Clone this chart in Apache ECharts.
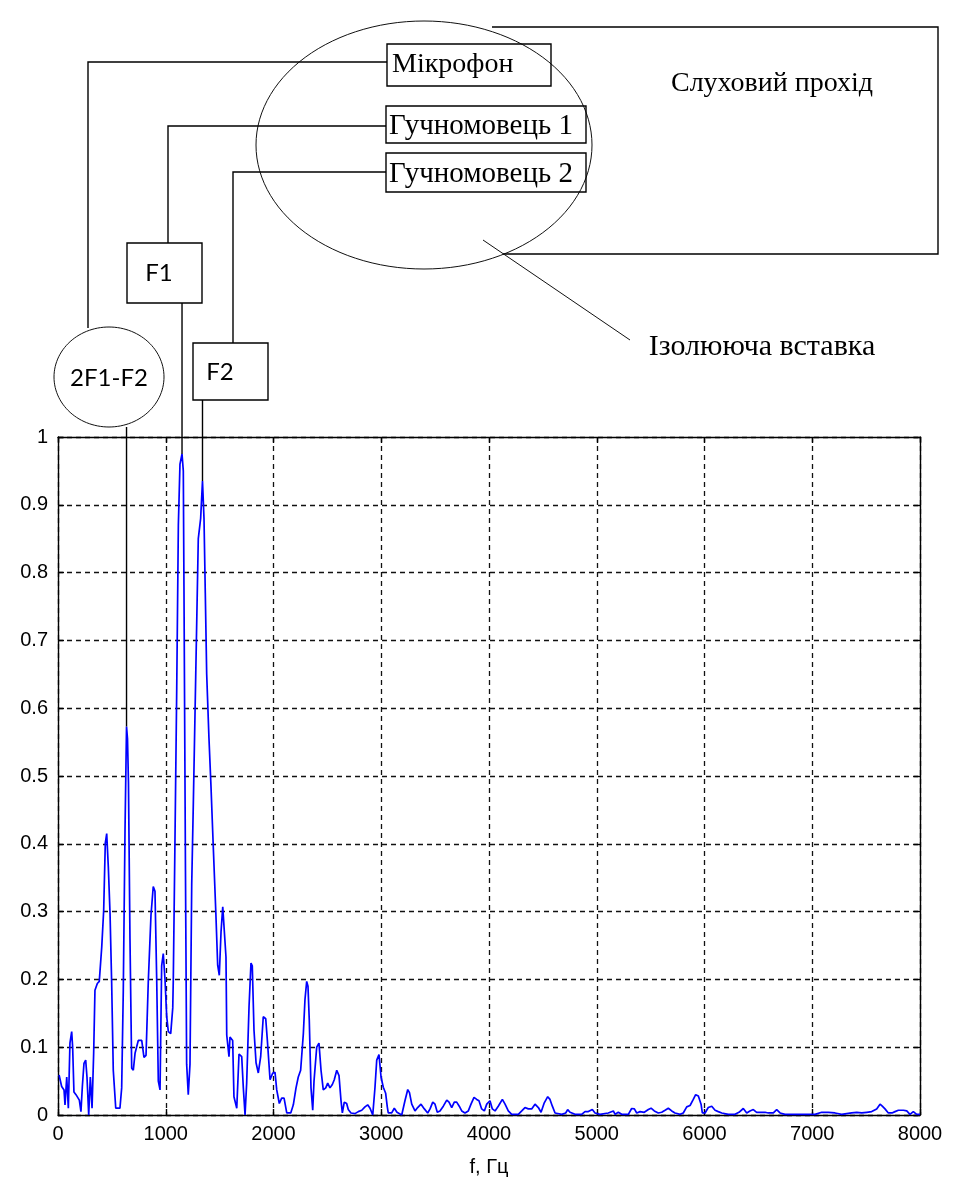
<!DOCTYPE html>
<html>
<head>
<meta charset="utf-8">
<script src="https://cdn.jsdelivr.net/npm/echarts@6/dist/echarts.min.js"></script>
<style>
  html, body { margin: 0; padding: 0; background: #fff; }
  #chart { width: 953px; height: 1194px; }
</style>
</head>
<body>
<div id="chart"></div>
<script>
// Amplitude spectrum of the microphone signal (normalised), frequency in Hz
const freqHz = [
  10, 34, 56, 65, 81, 96, 111, 127, 136, 148, 167, 183, 198, 213, 226, 241, 257, 269, 285, 300,
  316, 331, 343, 365, 383, 406, 424, 439, 452, 467, 483, 498, 513, 536, 575, 591, 606, 622, 636, 645,
  654, 668, 684, 699, 715, 745, 777, 798, 817, 838, 863, 884, 900, 916, 931, 947, 962, 977, 993, 1009,
  1024, 1046, 1065, 1070, 1083, 1102, 1117, 1132, 1151, 1163, 1169, 1183, 1194, 1209, 1225, 1241, 1256, 1278, 1302, 1324,
  1341, 1355, 1367, 1380, 1401, 1420, 1441, 1464, 1482, 1497, 1513, 1529, 1543, 1559, 1566, 1587, 1596, 1621, 1633, 1659,
  1680, 1705, 1720, 1736, 1751, 1773, 1791, 1803, 1819, 1838, 1859, 1881, 1905, 1928, 1943, 1968, 1993, 2014, 2030, 2054,
  2076, 2098, 2123, 2160, 2184, 2209, 2230, 2252, 2277, 2292, 2308, 2320, 2332, 2348, 2364, 2376, 2401, 2422, 2441, 2462,
  2485, 2503, 2524, 2546, 2564, 2587, 2608, 2626, 2639, 2657, 2679, 2694, 2719, 2756, 2787, 2819, 2849, 2874, 2896, 2921,
  2942, 2958, 2979, 2998, 3019, 3041, 3056, 3065, 3097, 3121, 3146, 3190, 3220, 3246, 3262, 3283, 3313, 3338, 3369, 3400,
  3431, 3453, 3478, 3499, 3520, 3545, 3576, 3608, 3629, 3654, 3678, 3700, 3724, 3747, 3777, 3808, 3833, 3861, 3886, 3907,
  3932, 3957, 3979, 4009, 4031, 4056, 4086, 4124, 4149, 4179, 4211, 4272, 4304, 4334, 4365, 4396, 4427, 4458, 4483, 4513,
  4545, 4566, 4588, 4613, 4675, 4712, 4730, 4752, 4798, 4860, 4891, 4922, 4959, 4984, 5030, 5107, 5154, 5170, 5200, 5232,
  5293, 5324, 5349, 5371, 5402, 5441, 5479, 5504, 5534, 5571, 5603, 5634, 5664, 5696, 5726, 5773, 5803, 5835, 5866, 5896,
  5918, 5943, 5968, 5980, 6005, 6035, 6067, 6098, 6128, 6160, 6221, 6283, 6320, 6360, 6392, 6422, 6453, 6484, 6562, 6592,
  6639, 6670, 6701, 6747, 7026, 7088, 7149, 7211, 7273, 7366, 7413, 7459, 7506, 7552, 7598, 7629, 7650, 7675, 7706, 7740,
  7768, 7799, 7846, 7877, 7907, 7938, 7969, 8000
];
const amplitude = [
  0.059, 0.042, 0.037, 0.015, 0.056, 0.010, 0.106, 0.123, 0.100, 0.034, 0.030, 0.032, 0.022, 0.005, 0.042, 0.076, 0.081, 0.056, 0.000, 0.056,
  0.010, 0.091, 0.184, 0.194, 0.197, 0.248, 0.302, 0.401, 0.415, 0.366, 0.297, 0.195, 0.066, 0.010, 0.010, 0.040, 0.184, 0.420, 0.573, 0.555,
  0.490, 0.260, 0.069, 0.066, 0.091, 0.110, 0.110, 0.085, 0.088, 0.197, 0.295, 0.337, 0.330, 0.200, 0.050, 0.037, 0.220, 0.238, 0.200, 0.145,
  0.123, 0.120, 0.158, 0.200, 0.370, 0.630, 0.870, 0.960, 0.975, 0.950, 0.780, 0.360, 0.075, 0.030, 0.075, 0.340, 0.460, 0.646, 0.850, 0.880,
  0.935, 0.880, 0.770, 0.650, 0.556, 0.484, 0.396, 0.302, 0.221, 0.206, 0.270, 0.307, 0.305, 0.233, 0.118, 0.086, 0.115, 0.110, 0.027, 0.010,
  0.090, 0.086, 0.040, 0.000, 0.047, 0.160, 0.224, 0.220, 0.125, 0.077, 0.062, 0.086, 0.145, 0.142, 0.110, 0.052, 0.062, 0.063, 0.037, 0.017,
  0.025, 0.025, 0.003, 0.003, 0.015, 0.040, 0.056, 0.066, 0.120, 0.170, 0.197, 0.190, 0.140, 0.040, 0.007, 0.050, 0.100, 0.106, 0.066, 0.037,
  0.040, 0.047, 0.040, 0.045, 0.052, 0.066, 0.058, 0.022, 0.003, 0.019, 0.017, 0.008, 0.003, 0.002, 0.005, 0.007, 0.012, 0.015, 0.010, 0.000,
  0.041, 0.081, 0.089, 0.056, 0.041, 0.032, 0.012, 0.003, 0.003, 0.010, 0.004, 0.000, 0.021, 0.0375, 0.033, 0.016, 0.006, 0.011, 0.016, 0.009,
  0.003, 0.009, 0.019, 0.016, 0.004, 0.006, 0.013, 0.022, 0.019, 0.011, 0.019, 0.019, 0.013, 0.006, 0.003, 0.006, 0.016, 0.026, 0.023, 0.021,
  0.009, 0.006, 0.016, 0.021, 0.009, 0.006, 0.013, 0.023, 0.016, 0.006, 0.001, 0.001, 0.006, 0.011, 0.009, 0.009, 0.016, 0.011, 0.004, 0.018,
  0.027, 0.023, 0.013, 0.003, 0.001, 0.003, 0.008, 0.004, 0.001, 0.001, 0.005, 0.005, 0.008, 0.003, 0.001, 0.003, 0.006, 0.001, 0.004, 0.001,
  0.001, 0.0096, 0.009, 0.003, 0.005, 0.004, 0.008, 0.010, 0.006, 0.003, 0.004, 0.007, 0.010, 0.006, 0.003, 0.001, 0.003, 0.012, 0.014, 0.023,
  0.030, 0.028, 0.016, 0.003, 0.003, 0.011, 0.013, 0.007, 0.005, 0.003, 0.001, 0.001, 0.004, 0.0096, 0.003, 0.006, 0.008, 0.004, 0.004, 0.003,
  0.003, 0.008, 0.003, 0.001, 0.001, 0.004, 0.004, 0.003, 0.001, 0.003, 0.004, 0.003, 0.004, 0.005, 0.009, 0.016, 0.013, 0.009, 0.003, 0.003,
  0.005, 0.007, 0.007, 0.006, 0.001, 0.005, 0.001, 0.001
];
// Axis tick values
const xTicks = [0, 1000, 2000, 3000, 4000, 5000, 6000, 7000, 8000];
const yTicks = [0, 0.1, 0.2, 0.3, 0.4, 0.5, 0.6, 0.7, 0.8, 0.9, 1];
// Frequencies of the labelled components
const peakFreq = { imd: 636, f1: 1151, f2: 1341 };

const BLACK = '#000';
const serif = 'Liberation Serif';
const sans = 'Lato';
const tickFont = 'Liberation Sans';

const chart = echarts.init(document.getElementById('chart'), null, { renderer: 'canvas' });

const xStep = xTicks[1] - xTicks[0];
const yStep = Math.round((yTicks[1] - yTicks[0]) * 10) / 10;

function xAxisCfg(pos, show) {
  return {
    type: 'value', position: pos, min: xTicks[0], max: xTicks[xTicks.length - 1], interval: xStep,
    name: show ? 'f, Гц' : '', nameLocation: 'middle', nameGap: 42,
    nameTextStyle: { fontFamily: tickFont, fontSize: 20, color: BLACK },
    axisLine: { show: true, onZero: false, lineStyle: { color: BLACK, width: 1.4 } },
    axisTick: { show: true, inside: true, length: 6, lineStyle: { color: BLACK, width: 1.4 } },
    axisLabel: { show: show, margin: 9, fontFamily: tickFont, fontSize: 20, color: BLACK,
      formatter: v => String(v) },
    splitLine: { show: show, lineStyle: { color: '#111', type: [5, 4], width: 1.3 } }
  };
}
function yAxisCfg(pos, show) {
  return {
    type: 'value', position: pos, min: yTicks[0], max: yTicks[yTicks.length - 1], interval: yStep,
    axisLine: { show: true, onZero: false, lineStyle: { color: BLACK, width: 1.4 } },
    axisTick: { show: true, inside: true, length: 6, lineStyle: { color: BLACK, width: 1.4 } },
    axisLabel: { show: show, margin: 10, fontFamily: tickFont, fontSize: 20, color: BLACK,
      formatter: v => String(Math.round(v * 10) / 10) },
    splitLine: { show: show, lineStyle: { color: '#111', type: [5, 4], width: 1.3 } }
  };
}

function ellipsePoints(cx, cy, rx, ry) {
  const pts = [];
  for (let i = 0; i < 120; i++) {
    const t = i / 120 * Math.PI * 2;
    pts.push([cx + rx * Math.cos(t), cy + ry * Math.sin(t)]);
  }
  return pts;
}

const thin = { stroke: '#111', lineWidth: 1, fill: null };
const wire = { stroke: BLACK, lineWidth: 1.4, fill: null };
const box = { stroke: BLACK, lineWidth: 1.4, fill: 'rgba(0,0,0,0)' };
const serifFont = px => px + 'px "' + serif + '"';
const sansFont = px => px + 'px "' + sans + '"';

// Measurement set-up drawn above the plot
const sketch = [
  // ear canal insert and ear canal outline
  { type: 'polygon', shape: { points: ellipsePoints(424, 145, 168, 124) }, style: thin },
  { type: 'polyline', shape: { points: [[492, 27], [938, 27], [938, 254], [503, 254]] }, style: wire },
  { type: 'line', shape: { x1: 483, y1: 240, x2: 630, y2: 340 }, style: thin },
  { type: 'text', x: 772, y: 84, style: { text: 'Слуховий прохід', font: serifFont(28), fill: BLACK, textAlign: 'center', textVerticalAlign: 'middle' } },
  { type: 'text', x: 762, y: 347, style: { text: 'Ізолююча вставка', font: serifFont(30), fill: BLACK, textAlign: 'center', textVerticalAlign: 'middle' } },
  // transducers
  { type: 'rect', shape: { x: 387, y: 44, width: 164, height: 42 }, style: box },
  { type: 'text', x: 392, y: 65, style: { text: 'Мікрофон', font: serifFont(28), fill: BLACK, textVerticalAlign: 'middle' } },
  { type: 'rect', shape: { x: 386, y: 106, width: 200, height: 37 }, style: box },
  { type: 'text', x: 389, y: 126, style: { text: 'Гучномовець 1', font: serifFont(29), fill: BLACK, textVerticalAlign: 'middle' } },
  { type: 'rect', shape: { x: 386, y: 153, width: 200, height: 39 }, style: box },
  { type: 'text', x: 389, y: 174, style: { text: 'Гучномовець 2', font: serifFont(29), fill: BLACK, textVerticalAlign: 'middle' } },
  // wiring
  { type: 'polyline', shape: { points: [[387, 62], [88, 62], [88, 328]] }, style: wire },
  { type: 'polyline', shape: { points: [[386, 126], [168, 126], [168, 243]] }, style: wire },
  { type: 'polyline', shape: { points: [[386, 172], [233, 172], [233, 343]] }, style: wire },
  // component tags
  { type: 'rect', shape: { x: 127, y: 243, width: 75, height: 60 }, style: box },
  { type: 'text', x: 159, y: 273, style: { text: 'F1', font: sansFont(24), fill: BLACK, textAlign: 'center', textVerticalAlign: 'middle' } },
  { type: 'rect', shape: { x: 193, y: 343, width: 75, height: 57 }, style: box },
  { type: 'text', x: 220, y: 372, style: { text: 'F2', font: sansFont(24), fill: BLACK, textAlign: 'center', textVerticalAlign: 'middle' } },
  { type: 'polygon', shape: { points: ellipsePoints(109, 377, 55, 50) }, style: thin },
  { type: 'text', x: 109, y: 378, style: { text: '2F1-F2', font: sansFont(24), fill: BLACK, textAlign: 'center', textVerticalAlign: 'middle' } }
];

const option = {
  animation: false,
  backgroundColor: '#fff',
  grid: { left: 58, right: 33, top: 437, bottom: 79, containLabel: false },
  xAxis: [xAxisCfg('bottom', true), xAxisCfg('top', false)],
  yAxis: [yAxisCfg('left', true), yAxisCfg('right', false)],
  series: [{
    type: 'line',
    data: freqHz.map((f, i) => [f, amplitude[i]]),
    showSymbol: false,
    symbol: 'none',
    lineStyle: { color: '#0000ff', width: 1.7 },
    z: 3
  }],
  graphic: sketch
};
chart.setOption(option);

// Leader lines from each tag down to its spectral peak
function peakPixel(f) {
  const i = freqHz.indexOf(f);
  return chart.convertToPixel({ gridIndex: 0 }, [f, amplitude[i]]);
}
const pImd = peakPixel(peakFreq.imd);
const pF1 = peakPixel(peakFreq.f1);
const pF2 = peakPixel(peakFreq.f2);
const leaders = [
  { type: 'line', z: 10, shape: { x1: pImd[0], y1: 427, x2: pImd[0], y2: pImd[1] }, style: wire },
  { type: 'line', z: 10, shape: { x1: pF1[0], y1: 303, x2: pF1[0], y2: pF1[1] }, style: wire },
  { type: 'line', z: 10, shape: { x1: pF2[0], y1: 400, x2: pF2[0], y2: pF2[1] }, style: wire }
];
chart.setOption({ graphic: sketch.concat(leaders) });
</script>
</body>
</html>
